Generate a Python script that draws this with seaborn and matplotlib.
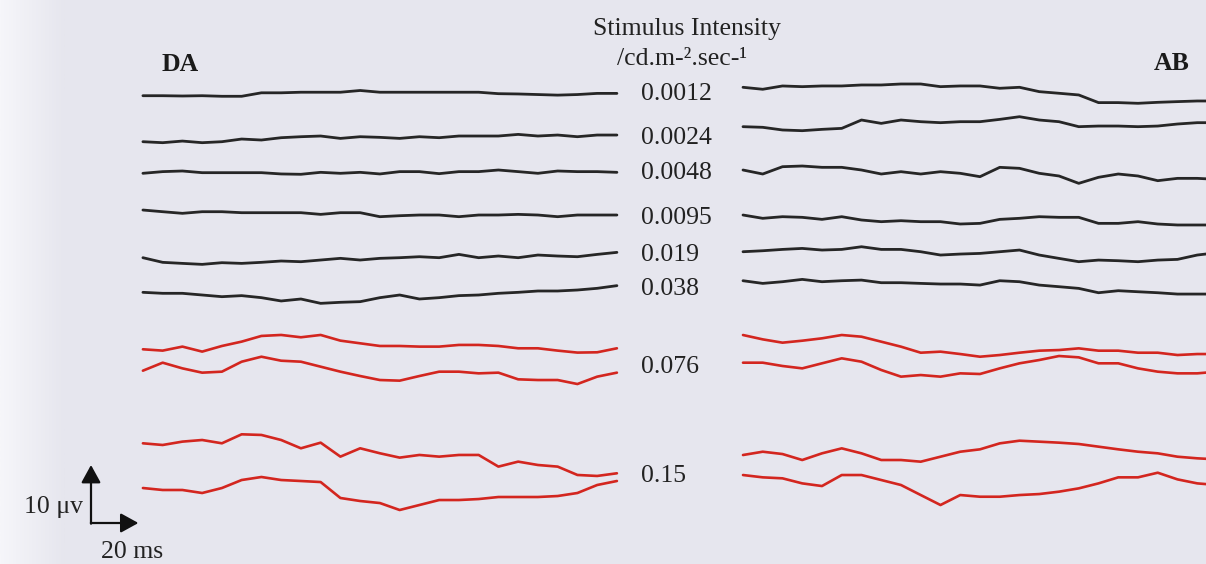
import numpy as np
import pandas as pd
import matplotlib
matplotlib.use("Agg")
import matplotlib.pyplot as plt
from matplotlib.colors import LinearSegmentedColormap
import seaborn as sns

# ---------------- data (amplitude in microvolts, 25 samples over 200 ms) ----------------
time_ms = np.linspace(0, 200, 25)

intensity_labels = ["0.0012", "0.0024", "0.0048", "0.0095", "0.019", "0.038", "0.076", "0.15"]

# DA panel
da_0012 = [0, 0, -0.05, 0, -0.1, -0.1, 0.5, 0.5, 0.6, 0.6, 0.6, 0.9, 0.6, 0.6, 0.6, 0.6, 0.6, 0.6, 0.35, 0.3, 0.2, 0.1, 0.2, 0.4, 0.4]
da_0024 = [0, -0.17, 0.11, -0.17, 0, 0.46, 0.29, 0.69, 0.86, 0.98, 0.57, 0.86, 0.75, 0.57, 0.86, 0.69, 0.98, 0.98, 0.98, 1.26, 0.98, 1.15, 0.86, 1.15, 1.15]
da_0048 = [0, 0.29, 0.40, 0.11, 0.11, 0.11, 0.11, -0.11, -0.17, 0.17, 0, 0.17, -0.11, 0.29, 0.29, -0.06, 0.29, 0.29, 0.57, 0.29, 0, 0.40, 0.29, 0.29, 0.17]
da_0095 = [0, -0.29, -0.57, -0.29, -0.29, -0.46, -0.46, -0.46, -0.46, -0.75, -0.46, -0.46, -1.15, -0.98, -0.86, -0.86, -1.15, -0.86, -0.86, -0.75, -0.86, -1.15, -0.86, -0.86, -0.86]
da_019 = [0, -0.80, -0.98, -1.15, -0.86, -0.98, -0.80, -0.57, -0.69, -0.40, -0.11, -0.40, -0.11, 0, 0.17, 0, 0.57, 0, 0.29, 0, 0.46, 0.29, 0.17, 0.57, 0.92]
da_038 = [0, -0.17, -0.17, -0.46, -0.75, -0.57, -0.92, -1.49, -1.15, -1.90, -1.72, -1.61, -0.92, -0.46, -1.15, -0.92, -0.57, -0.46, -0.17, 0, 0.23, 0.23, 0.40, 0.69, 1.15]
da_076_a = [0, -0.23, 0.46, -0.40, 0.57, 1.32, 2.30, 2.47, 2.07, 2.47, 1.49, 1.03, 0.57, 0.57, 0.46, 0.46, 0.75, 0.75, 0.57, 0.17, 0.17, -0.23, -0.57, -0.52, 0.17]
da_076_b = [0, 1.38, 0.40, -0.34, -0.17, 1.55, 2.41, 1.72, 1.55, 0.69, -0.17, -0.92, -1.61, -1.72, -0.92, -0.17, -0.17, -0.46, -0.34, -1.49, -1.61, -1.61, -2.30, -1.03, -0.34]
da_15_a = [0, -0.29, 0.29, 0.57, 0, 1.55, 1.44, 0.57, -0.86, 0.11, -2.30, -0.86, -1.72, -2.47, -2.01, -2.30, -2.01, -2.01, -4.02, -3.16, -3.74, -4.02, -5.46, -5.63, -5.17]
da_15_b = [0, -0.34, -0.34, -0.86, 0, 1.38, 1.90, 1.38, 1.21, 1.03, -1.72, -2.24, -2.59, -3.79, -2.93, -2.07, -2.07, -1.90, -1.55, -1.55, -1.55, -1.38, -0.86, 0.52, 1.21]

# AB panel
ab_0012 = [0, -0.34, 0.23, 0.11, 0.23, 0.23, 0.40, 0.40, 0.57, 0.57, 0.11, 0.23, 0.23, -0.17, 0, -0.75, -1.03, -1.32, -2.64, -2.64, -2.76, -2.59, -2.47, -2.36, -2.36]
ab_0024 = [0, -0.11, -0.57, -0.69, -0.46, -0.29, 1.15, 0.57, 1.15, 0.86, 0.69, 0.86, 0.86, 1.26, 1.72, 1.15, 0.86, 0, 0.11, 0.11, 0, 0.11, 0.46, 0.69, 0.69]
ab_0048 = [0, -0.69, 0.57, 0.69, 0.46, 0.46, 0, -0.69, -0.29, -0.69, -0.29, -0.57, -1.15, 0.46, 0.29, -0.57, -1.03, -2.30, -1.26, -0.69, -1.03, -1.84, -1.44, -1.44, -1.61]
ab_0095 = [0, -0.57, -0.29, -0.40, -0.75, -0.29, -0.86, -1.15, -0.98, -1.15, -1.15, -1.55, -1.44, -0.75, -0.57, -0.29, -0.40, -0.40, -1.44, -1.44, -1.15, -1.55, -1.72, -1.72, -1.72]
ab_019 = [0, 0.17, 0.40, 0.57, 0.29, 0.40, 0.86, 0.40, 0.40, 0, -0.57, -0.40, -0.29, 0, 0.29, -0.57, -1.15, -1.72, -1.44, -1.55, -1.72, -1.44, -1.32, -0.57, -0.17]
ab_038 = [0, -0.46, -0.17, 0.23, -0.17, 0, 0.11, -0.34, -0.34, -0.46, -0.57, -0.57, -0.75, 0, -0.17, -0.75, -1.03, -1.32, -2.07, -1.72, -1.90, -2.07, -2.30, -2.30, -2.30]
ab_076_a = [0, -0.75, -1.32, -0.98, -0.57, 0, -0.29, -1.15, -2.01, -3.05, -2.87, -3.28, -3.74, -3.45, -3.05, -2.70, -2.59, -2.30, -2.70, -2.70, -3.05, -3.05, -3.45, -3.28, -3.28]
ab_076_b = [0, 0, -0.57, -0.98, -0.11, 0.75, 0.17, -1.26, -2.41, -2.13, -2.41, -1.84, -1.95, -0.98, -0.11, 0.46, 1.15, 0.92, -0.11, -0.11, -0.98, -1.55, -1.84, -1.84, -1.55]
ab_15_a = [0, 0.57, 0.17, -0.86, 0.29, 1.15, 0.29, -0.86, -0.86, -1.15, -0.29, 0.57, 0.98, 2.01, 2.47, 2.30, 2.13, 1.90, 1.44, 0.98, 0.57, 0.29, -0.29, -0.57, -0.75]
ab_15_b = [0, -0.40, -0.57, -1.44, -1.90, 0, 0, -0.86, -1.72, -3.45, -5.17, -3.45, -3.74, -3.74, -3.45, -3.28, -2.87, -2.30, -1.44, -0.40, -0.40, 0.40, -0.75, -1.44, -1.72]

da_traces = [da_0012, da_0024, da_0048, da_0095, da_019, da_038, da_076_a, da_076_b, da_15_a, da_15_b]
ab_traces = [ab_0012, ab_0024, ab_0048, ab_0095, ab_019, ab_038, ab_076_a, ab_076_b, ab_15_a, ab_15_b]
trace_intensity = ["0.0012", "0.0024", "0.0048", "0.0095", "0.019", "0.038", "0.076", "0.076", "0.15", "0.15"]

scale_uv = 10
scale_ms = 20

# ---------------- layout ----------------
W, H = 1206, 564
PX_PER_MS = 2.37
PX_PER_UV = 5.8
da_t0 = 60.3
ab_t0 = 313.5
da_base = [80.74, 72.81, 67.36, 61.03, 52.81, 46.84, 37.02, 33.33, 20.81, 13.10]
ab_base = [82.19, 75.40, 67.93, 60.17, 53.84, 48.84, 39.48, 34.71, 18.79, 15.34]
BG = "#e6e6ee"
BLACK = "#262626"
RED = "#d3261f"

rows = []
for panel, traces, t0, bases in (("DA", da_traces, da_t0, da_base), ("AB", ab_traces, ab_t0, ab_base)):
    for i, (vals, base) in enumerate(zip(traces, bases)):
        for t, v in zip(time_ms, vals):
            rows.append({"panel": panel, "trace": f"{panel}{i}", "idx": i,
                         "x": t0 + t, "y": base + v})
df = pd.DataFrame(rows)

sns.set_theme(style="white")
plt.rcParams["font.family"] = ["Liberation Serif", "DejaVu Serif"]

fig = plt.figure(figsize=(W / 100, H / 100), dpi=100)
fig.patch.set_facecolor(BG)
ax = fig.add_axes([0, 0, 1, 1])
ax.set_facecolor(BG)
ax.set_xlim(0, W / PX_PER_MS)
ax.set_ylim(0, H / PX_PER_UV)
ax.axis("off")

# faint scanner brightening at the left margin
grad = np.linspace(0, 1, 64)[None, :]
cmap = LinearSegmentedColormap.from_list("edge", ["#f6f6fa", BG])
ax.imshow(grad, extent=[0, 65 / PX_PER_MS, 0, H / PX_PER_UV], aspect="auto",
          cmap=cmap, zorder=0)

for key, sub in df.groupby("trace", sort=False):
    idx = sub["idx"].iloc[0]
    color = BLACK if idx < 6 else RED
    lw = 2.0 if idx < 6 else 1.9
    sns.lineplot(data=sub, x="x", y="y", ax=ax, color=color, linewidth=lw,
                 sort=False, estimator=None, legend=False)
ax.set_xlim(0, W / PX_PER_MS)
ax.set_ylim(0, H / PX_PER_UV)
ax.set_xlabel("")
ax.set_ylabel("")


def ptext(x, y, s, **kw):
    fig.text(x / W, 1 - y / H, s, **kw)


FS = 18.5
ptext(180, 71, "DA", fontsize=FS, fontweight="bold", ha="center", va="baseline", color="#1a1a1a")
ptext(1172, 70, "AB", fontsize=FS, fontweight="bold", ha="center", va="baseline", color="#1a1a1a")
ptext(687, 35, "Stimulus Intensity", fontsize=FS, ha="center", va="baseline", color="#222222")
ptext(682, 65, "/cd.m-\u00b2.sec-\u00b9", fontsize=FS, ha="center", va="baseline", color="#222222")

label_baselines = [100, 144, 179, 224, 261, 295, 373, 482]
for lab, yb in zip(intensity_labels, label_baselines):
    ptext(641, yb, lab, fontsize=FS, ha="left", va="baseline", color="#222222")

# scale bar
cx, cy = 91 / PX_PER_MS, (H - 523) / PX_PER_UV
arrow_kw = dict(arrowstyle="-|>,head_length=0.4,head_width=0.22", mutation_scale=27,
                lw=1.6, color="#111111", shrinkA=0, shrinkB=0)
ax.annotate("", xy=(cx, cy + scale_uv), xytext=(cx, cy - 0.12), arrowprops=arrow_kw)
ax.annotate("", xy=(cx + scale_ms, cy), xytext=(cx - 0.06, cy), arrowprops=arrow_kw)
ptext(83, 513, f"{scale_uv} \u03bcv", fontsize=FS, ha="right", va="baseline", color="#222222")
ptext(132, 558, f"{scale_ms} ms", fontsize=FS, ha="center", va="baseline", color="#222222")

fig.savefig("out.png", dpi=100, facecolor=BG)
